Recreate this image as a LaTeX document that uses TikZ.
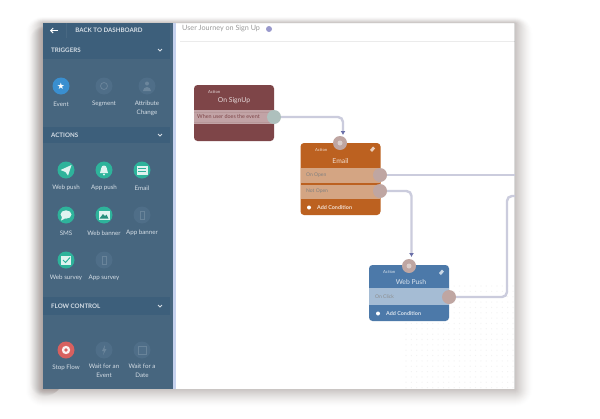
\documentclass[tikz,border=0pt]{standalone}
\usepackage{fontspec}
\setmainfont{Lato}
\usetikzlibrary{arrows.meta}
\definecolor{panel}{HTML}{47667F}
\definecolor{band}{HTML}{3D5F7B}
\definecolor{teal}{HTML}{2EB39B}
\definecolor{mutedi}{HTML}{4F6E88}
\definecolor{labelc}{HTML}{D5DEE6}
\definecolor{wine}{HTML}{7E4548}
\definecolor{winerow}{HTML}{C2A3A6}
\definecolor{rust}{HTML}{BC6120}
\definecolor{rustrow}{HTML}{D4A583}
\definecolor{steel}{HTML}{4C79A9}
\definecolor{steelrow}{HTML}{A5BCD4}
\definecolor{wire}{HTML}{CBCCDD}
\definecolor{portc}{HTML}{BFA6A2}
\definecolor{eventc}{HTML}{3A8FD0}
\definecolor{stopc}{HTML}{D8605F}
\definecolor{tipc}{HTML}{6A6FA8}
\definecolor{shbase}{HTML}{C6C1BF}
\definecolor{shdark}{HTML}{4A3A36}
\tikzset{
 lbl/.style={text=labelc,font=\fontsize{6.2}{9.2}\selectfont,align=center,inner sep=0pt},
 hdr/.style={text=labelc,font=\bfseries\fontsize{6.2}{7}\selectfont,inner sep=0pt},
 icon/.style={circle,minimum size=17pt,inner sep=0pt,fill=teal},
 muted/.style={circle,minimum size=17pt,inner sep=0pt,fill=mutedi},
 flownode/.style={rounded corners=3.5pt,inner sep=0pt,minimum width=80pt},
 port/.style={circle,inner sep=0pt,minimum size=14pt,fill=portc},
 wirec/.style={draw=wire,line width=2.4pt,rounded corners=5pt},
 tip/.style={-{Latex[length=4pt,width=5pt,color=tipc]}},
 wtext/.style={text=white,text opacity=.8,inner sep=0pt,font=\fontsize{6.8}{8}\selectfont},
 stext/.style={inner sep=0pt,font=\fontsize{5}{6}\selectfont},
 glyph/.style={fill=white,draw=none},
 mglyph/.style={draw=labelc,draw opacity=.2,line width=.8pt,fill=none},
}
\begin{document}
\begin{tikzpicture}[x=1pt,y=-1pt]
\useasboundingbox (0,0) rectangle (600,418);
\fill[white] (0,0) rectangle (600,418);
% soft shadow: nested opaque rounded rectangles from pale and wide to dark and tight
\foreach \d [evaluate=\d as \p using {100*(1-\d/18)^1.4}] in {17,16,...,1}{
 \fill[shbase!\p!white,rounded corners=\d pt] (43-\d,23-\d*.35) rectangle (515+\d,389+\d);
}
% extra depth on the left side only: faint darkening layers
\foreach \d in {1,...,14}{
 \fill[shdark,opacity=.016,rounded corners=\d pt] (44-\d,30-\d*.3) rectangle (60,389+\d*.5);
}
% canvas
\fill[white] (174,23) rectangle (515,389);
\fill[black,opacity=.04] (174,23) rectangle (515,24);
\draw[black!8,line width=.5pt] (180,41) -- (515,41);
\fill[black,opacity=.14] (514,23) rectangle (515,389);
\fill[cyan!45!blue!22] (173,23) rectangle (175.5,389);
\foreach \i in {0,...,20}{\foreach \j in {0,...,19}{
 \fill[black!5] (406+\i*5.35,286+\j*5.35) circle (.6pt);}}
% panel
\fill[panel] (43,23) rectangle (173,389);
\fill[band] (43,23) rectangle (170,59);
\fill[band] (43,127) rectangle (170,143);
\fill[band] (43,297) rectangle (170,315);
% header
\node[hdr] (back) at (109,30.5) {BACK TO DASHBOARD};
\draw[white,line width=1pt,-{Straight Barb[length=2.5pt,width=5pt]}] (58,30.5) -- (50,30.5);
\draw[white,opacity=.06] (66,23) -- (66,38);
\node[hdr,anchor=west] (trig) at (51,50) {TRIGGERS};
\node[hdr,anchor=west] (acts) at (51,135) {ACTIONS};
\node[hdr,anchor=west] (flow) at (51,306) {FLOW CONTROL};
\foreach \y in {50,135,306}{
 \draw[labelc,line width=.8pt] (158,\y-1) -- (160,\y+1) -- (162,\y-1);}
% triggers
\node[icon,fill=eventc] (ev) at (61,86) {\textcolor{white}{\fontsize{9}{9}\selectfont\fontspec{DejaVu Sans}★}};
\node[muted] (seg) at (104,86) {};
\draw[mglyph] (seg) circle (3.5pt);
\node[muted] (att) at (147,86) {};
\fill[labelc,opacity=.22] (147,83.5) circle (2pt);
\fill[labelc,opacity=.22] (143,91) arc (180:360:4 and 4);
\node[lbl] (evl) at (61,104) {Event};
\node[lbl] (segl) at (104,104) {Segment};
\node[lbl,anchor=north] (attl) at (147,100.5) {Attribute\\Change};
% actions
\node[icon] (webp) at (66,170) {};
\fill[glyph,opacity=.85] (60.5,170) -- (71.5,165) -- (68,175.5) -- (65.5,172) -- cycle;
\node[icon] (appp) at (104,170) {};
\fill[glyph,opacity=.85] (100,173) .. controls (101.5,170) and (100.5,165.5) .. (104,165.5) .. controls (107.5,165.5) and (106.5,170) .. (108,173) -- cycle;
\fill[glyph,opacity=.85] (104,174.5) circle (1.2pt);
\node[icon] (emailb) at (142,170) {};
\fill[glyph,opacity=.85] (136.5,166) rectangle (147.5,174.5);
\draw[teal,line width=.6pt] (138,168.5) -- (146,168.5) (138,171) -- (146,171);
\node[lbl] (webpl) at (66,188) {Web push};
\node[lbl] (apppl) at (104,188) {App push};
\node[lbl] (emaill) at (142,188) {Email};
\node[icon] (sms) at (66,215) {};
\fill[glyph,opacity=.85] (66,214.5) ellipse (5.5 and 4.2);
\fill[glyph,opacity=.85] (62,217) -- (61,220.5) -- (65,218.5) -- cycle;
\node[icon] (webb) at (104,215) {};
\fill[glyph,opacity=.85] (98.5,210.5) rectangle (109.5,219.5);
\fill[teal!80!black] (99.5,218.5) -- (103,214) -- (105,216) -- (106.5,214.5) -- (108.5,218.5) -- cycle;
\node[muted] (appb) at (142,215) {};
\draw[mglyph] (140,211) rectangle (144,219);
\node[lbl] (smsl) at (66,233) {SMS};
\node[lbl] (webbl) at (104,233) {Web banner};
\node[lbl] (appbl) at (142,233) {App banner};
\node[icon] (webs) at (66,260) {};
\fill[glyph,opacity=.85] (61,255.5) rectangle (71,265);
\draw[teal,line width=1pt] (63,260) -- (65.5,262.5) -- (70,257.5);
\node[muted] (apps) at (104,260) {};
\draw[mglyph] (102,256) rectangle (106,264);
\node[lbl] (websl) at (66,278) {Web survey};
\node[lbl] (appsl) at (104,278) {App survey};
% flow control
\node[icon,fill=stopc] (stop) at (66,350) {};
\fill[glyph,opacity=.9] (66,350) circle (4.2pt);
\fill[stopc] (66,350) circle (1.8pt);
\node[muted] (wev) at (104,350) {};
\fill[labelc,opacity=.22] (105,345) -- (102,351) -- (104,351) -- (103,355) -- (106.5,349) -- (104.5,349) -- cycle;
\node[muted] (wdt) at (142,350) {};
\draw[mglyph] (138,346.5) rectangle (146,354);
\node[lbl] (stopl) at (66,368) {Stop Flow};
\node[lbl,anchor=north] (wevl) at (104,363.5) {Wait for an\\Event};
\node[lbl,anchor=north] (wdtl) at (142,363.5) {Wait for a\\Date};
% title
\node[stext,anchor=west,text=black!40,font=\fontsize{7.2}{8}\selectfont] (title) at (182,29) {User Journey on Sign Up};
\node[circle,fill=black!50!blue!40,minimum size=6pt,inner sep=0pt] (info) at (269,29) {};
% flow nodes
\node[flownode,fill=wine,minimum height=56pt] (signup) at (234,113) {};
\fill[winerow] (194,110) rectangle (274,124);
\draw[wine!60!white,line width=.6pt,opacity=.6] (194,112) -- (274,112) (194,122) -- (274,122);
\node[wtext] (signupt) at (234,101) {On SignUp};
\node[wtext,font=\fontsize{4.2}{5}\selectfont,anchor=west] (signupm) at (208,91.5) {Action};
\node[stext,anchor=west,text=wine,font=\fontsize{5.4}{6}\selectfont] (signupr) at (197,117) {When user does the event};

\node[flownode,fill=rust,minimum height=72pt] (email) at (340.5,179) {};
\fill[rustrow] (301,168) rectangle (380,183);
\fill[rustrow] (301,185) rectangle (380,199);
\node[wtext] (emailt) at (340.5,161) {Email};
\node[wtext,font=\fontsize{4.2}{5}\selectfont,anchor=west] (emailm) at (315,150) {Action};
\node[stext,anchor=west,text=black!50] (e1) at (306,175.5) {On Open};
\node[stext,anchor=west,text=black!50] (e2) at (306,191.5) {Not Open};
\fill[white] (309,207.5) circle (2pt);
\node[wtext,anchor=west,font=\bfseries\fontsize{5.4}{6}\selectfont] (eadd) at (317,207.5) {Add Condition};
\fill[white,opacity=.7] (370,150) -- (373,146.5) -- (375,148.5) -- (372,152) -- cycle;

\node[flownode,fill=steel,minimum height=56pt] (push) at (409,293) {};
\fill[steelrow] (369,288) rectangle (449,305);
\node[wtext] (pusht) at (411,282.5) {Web Push};
\node[wtext,font=\fontsize{4.2}{5}\selectfont,anchor=west] (pushm) at (383,272) {Action};
\node[stext,anchor=west,text=black!45] (p1t) at (375,296.5) {On Click};
\fill[white] (378,313.5) circle (2pt);
\node[wtext,anchor=west,font=\bfseries\fontsize{5.4}{6}\selectfont] (padd) at (386,313.5) {Add Condition};
\fill[white,opacity=.7] (439,273) -- (442,269.5) -- (444,271.5) -- (441,275) -- cycle;

\coordinate (e1end) at (515,175);
\coordinate (e2end) at (515,196);
\node[port,fill=teal!25!gray!55!white] (p1) at (274,117) {};
\node[port] (p2) at (340,143) {};
\node[port] (p3) at (380,175) {};
\node[port] (p4) at (380,191) {};
\node[port] (p5) at (409,266) {};
\node[port] (p6) at (449,297) {};
\fill[white,opacity=.45] (340,143) circle (2.5pt);
\fill[white,opacity=.45] (409,266) circle (2.5pt);
\draw[wirec,tip] (p1.east) -- (343,117) -- (343,135);
\draw[wirec] (p3.east) -- (e1end);
\draw[wirec,tip] (p4.east) -- (411.5,191) -- (411.5,257);
\draw[wirec] (p6.east) -- (507,297) -- (507,196) -- (e2end);
\end{tikzpicture}
\end{document}
